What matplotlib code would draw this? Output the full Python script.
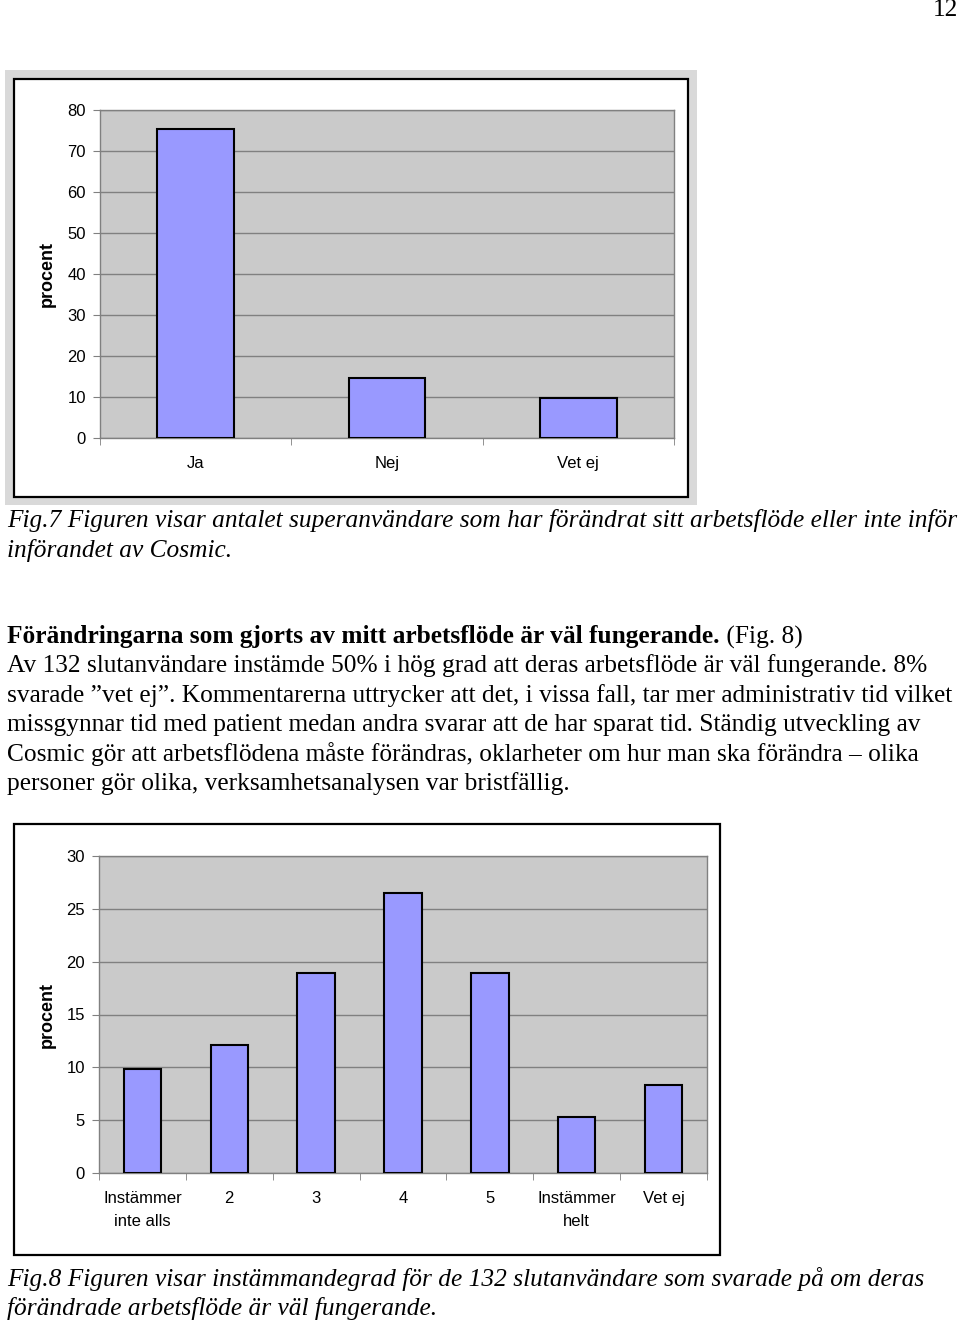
import matplotlib.pyplot as plt
from matplotlib.patches import Rectangle
from matplotlib.text import Annotation

# === DATA ===
kategorier_fig7 = ['Ja', 'Nej', 'Vet ej']
procent_fig7 = [75.4, 14.7, 9.8]

kategorier_fig8 = ['Instämmer\ninte alls', '2', '3', '4', '5', 'Instämmer\nhelt', 'Vet ej']
procent_fig8 = [9.8, 12.1, 18.9, 26.5, 18.9, 5.3, 8.3]

W, H = 960, 1323
fig = plt.figure(figsize=(W / 100, H / 100), dpi=100)

SERIF = 'Liberation Serif'
SANS = 'Liberation Sans'
BAR = '#9999ff'
PLOT_BG = '#cacaca'
GRID = '#808080'


def fx(x):
    return x / W


def fy(y):
    return 1 - y / H


def axes_px(left, top, right, bottom):
    return fig.add_axes([fx(left), fy(bottom), (right - left) / W, (bottom - top) / H])


def ram(left, top, right, bottom, skugga=False):
    # ramar ritas under axlarna (negativ zorder)
    if skugga:
        fig.patches.append(Rectangle((fx(left - 9), fy(bottom + 8)), (right - left + 18) / W,
                                     (bottom - top + 17) / H, transform=fig.transFigure,
                                     facecolor='#d9d9d9', edgecolor='none', zorder=-2))
    fig.patches.append(Rectangle((fx(left), fy(bottom)), (right - left) / W, (bottom - top) / H,
                                 transform=fig.transFigure, facecolor='white',
                                 edgecolor='black', linewidth=1.6, zorder=-1))


def stapeldiagram(ax, kategorier, varden, ymax, steg, bredd, ylab_x):
    n = len(kategorier)
    x = list(range(n))
    ax.set_facecolor(PLOT_BG)
    ax.bar(x, varden, width=bredd, color=BAR, edgecolor='black', linewidth=1.5, zorder=3)
    ax.set_xlim(-0.5, n - 0.5)
    ax.set_ylim(0, ymax)
    ax.set_yticks(range(0, ymax + 1, steg))
    ax.yaxis.grid(True, color=GRID, linewidth=1, zorder=1)
    ax.set_axisbelow(True)
    for s in ax.spines.values():
        s.set_color(GRID)
        s.set_linewidth(1)
    ax.set_xticks(x)
    ax.set_xticklabels(kategorier, fontfamily=SANS, fontsize=12, linespacing=1.7, va='top')
    ax.set_xticks([i - 0.5 for i in range(n + 1)], minor=True)
    ax.tick_params(axis='x', which='major', length=0, pad=13)
    ax.tick_params(axis='x', which='minor', length=5, color=GRID, direction='out')
    ax.tick_params(axis='y', length=5, color=GRID, direction='out', pad=5)
    for t in ax.get_yticklabels():
        t.set_fontfamily(SANS)
        t.set_fontsize(12)
    ax.set_ylabel('procent', fontfamily=SANS, fontsize=13, fontweight='bold', va='center')
    ax.yaxis.set_label_coords(ylab_x, 0.5)


# === Fig. 7 ===
ram(14, 79, 688, 497, skugga=True)
ax1 = axes_px(100, 110, 674, 438)
stapeldiagram(ax1, kategorier_fig7, procent_fig7, 80, 10, 0.4, (47 - 100) / 574)

# === Fig. 8 ===
ram(14, 824, 720, 1255)
ax2 = axes_px(99, 856, 707, 1173)
stapeldiagram(ax2, kategorier_fig8, procent_fig8, 30, 5, 0.43, (47 - 99) / 608)

# === TEXT ===
FS = 18.3
fig.text(fx(958), fy(10), '12', fontfamily=SERIF, fontsize=FS, ha='right', va='center')

rader_fig7 = ['Fig.7 Figuren visar antalet superanvändare som har förändrat sitt arbetsflöde eller inte inför',
              'införandet av Cosmic.']
for i, rad in enumerate(rader_fig7):
    fig.text(fx(7), fy(521 + i * 29.3), rad, fontfamily=SERIF, fontsize=FS, style='italic', va='center')

rubrik = fig.text(fx(7), fy(637), 'Förändringarna som gjorts av mitt arbetsflöde är väl fungerande.',
                  fontfamily=SERIF, fontsize=FS, fontweight='bold', va='center')
fig.add_artist(Annotation(' (Fig. 8)', xy=(1, 0.5), xycoords=rubrik, va='center',
                          fontfamily=SERIF, fontsize=FS))

brodtext = ['Av 132 slutanvändare instämde 50% i hög grad att deras arbetsflöde är väl fungerande. 8%',
            'svarade ”vet ej”. Kommentarerna uttrycker att det, i vissa fall, tar mer administrativ tid vilket',
            'missgynnar tid med patient medan andra svarar att de har sparat tid. Ständig utveckling av',
            'Cosmic gör att arbetsflödena måste förändras, oklarheter om hur man ska förändra – olika',
            'personer gör olika, verksamhetsanalysen var bristfällig.']
for i, rad in enumerate(brodtext):
    fig.text(fx(7), fy(666 + i * 29.3), rad, fontfamily=SERIF, fontsize=FS, va='center')

rader_fig8 = ['Fig.8 Figuren visar instämmandegrad för de 132 slutanvändare som svarade på om deras',
              'förändrade arbetsflöde är väl fungerande.']
for i, rad in enumerate(rader_fig8):
    fig.text(fx(7), fy(1279 + i * 29.3), rad, fontfamily=SERIF, fontsize=FS, style='italic', va='center')

fig.savefig('out.png', dpi=100)
